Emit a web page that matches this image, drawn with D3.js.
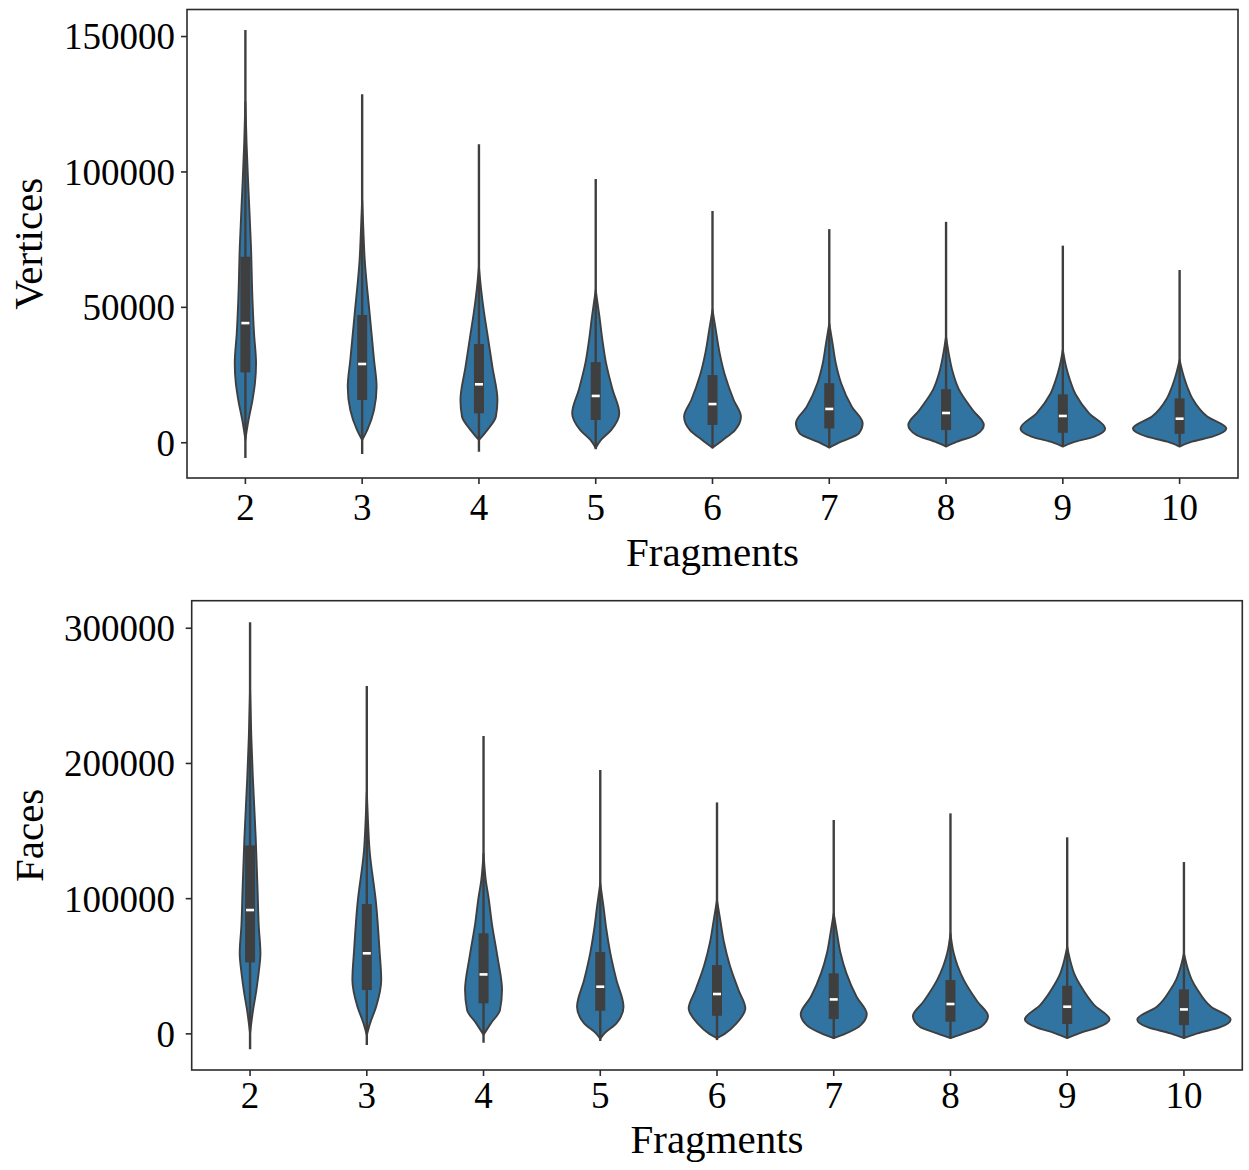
<!DOCTYPE html>
<html>
<head>
<meta charset="utf-8">
<script src="https://cdn.jsdelivr.net/npm/d3@7"></script>
<style>
  html, body { margin: 0; padding: 0; background: #fff; }
  svg { display: block; }
  text { font-family: "Liberation Serif", "Times New Roman", serif; fill: #000; }
</style>
</head>
<body>
<svg id="chart" width="1249" height="1170"></svg>
<script>
// ---------------- DATA ----------------
const categories = ["2", "3", "4", "5", "6", "7", "8", "9", "10"];
const xLabel = "Fragments";

// Vertices panel
const verticesTicks = [0, 50000, 100000, 150000];
const verticesWhiskerLow  = [-5800, -4300, -3500, -2600, -2200, -2000, -1600, -1600, -1600];
const verticesWhiskerHigh = [152200, 128500, 110000, 97200, 85400, 78700, 81400, 72600, 63600];
const verticesQ1     = [25800, 15600, 10700, 8200, 6400, 5100, 4500, 3500, 3100];
const verticesMedian = [44000, 28900, 21400, 17100, 14100, 12300, 10800, 9700, 8700];
const verticesQ3     = [68500, 47000, 36300, 29600, 24800, 21800, 19600, 17700, 16200];
// density profile per category: [value, relative density]
const verticesDensity = [
  [[850,0],[4000,0.026],[7000,0.054],[15600,0.152],[22000,0.206],[29200,0.228],[40200,0.185],[52500,0.152],[72200,0.12],[94400,0.063],[110000,0.026],[125700,0]],
  [[850,0],[4500,0.109],[11900,0.254],[20500,0.309],[30400,0.254],[47000,0.163],[67600,0.054],[80000,0.022],[89500,0]],
  [[850,0],[4500,0.178],[9500,0.363],[15600,0.396],[27900,0.287],[40300,0.178],[48000,0.109],[56200,0.048],[64800,0]],
  [[-2100,0],[850,0.113],[4500,0.33],[10700,0.504],[19300,0.363],[29600,0.217],[38000,0.141],[46400,0.08],[56200,0]],
  [[-2000,0],[850,0.222],[4500,0.483],[9500,0.609],[15600,0.454],[24800,0.265],[33000,0.152],[41500,0.07],[48900,0]],
  [[-2000,0],[200,0.254],[3300,0.635],[7000,0.715],[13100,0.483],[21800,0.254],[29000,0.141],[36500,0.07],[43900,0]],
  [[-1600,0],[200,0.237],[2700,0.635],[6400,0.809],[11900,0.57],[19600,0.272],[26000,0.141],[31600,0.07],[39000,0]],
  [[-1600,0],[200,0.265],[2100,0.672],[5100,0.907],[10700,0.563],[17700,0.272],[23000,0.152],[27900,0.07],[34100,0]],
  [[-1600,0],[200,0.265],[2100,0.7],[5100,1.0],[9500,0.591],[16200,0.272],[20500,0.163],[24200,0.091],[30400,0]]
];

// Faces panel
const facesTicks = [0, 100000, 200000, 300000];
const facesWhiskerLow  = [-11800, -8700, -6900, -5700, -5000, -4200, -3700, -3500, -3500];
const facesWhiskerHigh = [304000, 256900, 219900, 194700, 170800, 157800, 162700, 145000, 126700];
const facesQ1     = [52500, 32000, 22200, 16700, 13000, 10600, 8600, 6900, 6100];
const facesMedian = [91200, 59200, 43600, 34500, 29100, 25100, 21700, 19700, 17700];
const facesQ3     = [139000, 95600, 74000, 60100, 50500, 44400, 39400, 35200, 32500];
const facesDensity = [
  [[0,0],[14800,0.054],[32000,0.135],[45000,0.185],[59200,0.222],[80000,0.185],[106000,0.161],[145400,0.12],[189800,0.059],[220000,0.026],[255000,0]],
  [[-1200,0],[7400,0.07],[19700,0.2],[39400,0.309],[61600,0.272],[95600,0.2],[135600,0.059],[160000,0.022],[178700,0]],
  [[-1000,0],[7400,0.157],[17200,0.352],[32000,0.396],[56700,0.298],[81400,0.178],[100000,0.109],[113400,0.048],[133100,0]],
  [[-4000,0],[0,0.091],[7400,0.346],[19700,0.498],[39400,0.346],[60100,0.211],[77000,0.13],[93600,0.07],[110900,0]],
  [[-3500,0],[0,0.178],[7400,0.417],[18500,0.607],[32000,0.461],[50500,0.272],[67000,0.152],[83800,0.07],[98600,0]],
  [[-3500,0],[0,0.265],[6100,0.58],[14300,0.707],[27100,0.489],[44400,0.272],[60000,0.141],[74000,0.07],[88800,0]],
  [[-3500,0],[0,0.287],[4900,0.657],[12800,0.804],[23400,0.58],[39400,0.287],[50000,0.152],[59200,0.07],[74000,0]],
  [[-3500,0],[0,0.254],[4400,0.657],[10300,0.907],[20900,0.58],[35200,0.287],[44000,0.152],[51800,0.08],[64100,0]],
  [[-3500,0],[0,0.287],[4400,0.765],[10300,1.0],[19700,0.58],[32500,0.287],[40000,0.163],[46800,0.091],[59200,0]]
];

// ---------------- LAYOUT / STYLE ----------------
const VIOLIN_FILL = "#3274a1";
const DARK = "#3f3f3f";
const FRAME = "#2b2b2b";
const TICK_FONT = 37;
const LABEL_FONT = 41;

const panels = [
  {
    label: "Vertices", ticks: verticesTicks, domain: [-13200, 159800],
    left: 187, right: 1238, top: 9.5, bottom: 478,
    ylabelX: 42, tickLabelRight: 175, xTickPad: 11, xLabelBaseline: 566,
    wLow: verticesWhiskerLow, wHigh: verticesWhiskerHigh,
    q1: verticesQ1, med: verticesMedian, q3: verticesQ3, dens: verticesDensity
  },
  {
    label: "Faces", ticks: facesTicks, domain: [-27100, 320000],
    left: 191.7, right: 1242.3, top: 600.7, bottom: 1070,
    ylabelX: 43, tickLabelRight: 175, xTickPad: 7, xLabelBaseline: 1153,
    wLow: facesWhiskerLow, wHigh: facesWhiskerHigh,
    q1: facesQ1, med: facesMedian, q3: facesQ3, dens: facesDensity
  }
];

const svg = d3.select("#chart");
svg.append("rect").attr("width", 1249).attr("height", 1170).attr("fill", "#fff");

panels.forEach(p => {
  const g = svg.append("g");
  const x = d3.scaleBand().domain(categories).range([p.left, p.right]).padding(0);
  const y = d3.scaleLinear().domain(p.domain).range([p.bottom, p.top]);
  const w = d3.scaleLinear().domain([0, 1]).range([0, x.bandwidth() * 0.4]);

  // violins
  categories.forEach((c, i) => {
    const cx = x(c) + x.bandwidth() / 2;
    const area = d3.area()
      .curve(d3.curveMonotoneY)
      .y(d => y(d[0]))
      .x0(d => cx - w(d[1]))
      .x1(d => cx + w(d[1]));
    g.append("path")
      .datum(p.dens[i])
      .attr("d", area)
      .attr("fill", VIOLIN_FILL)
      .attr("stroke", DARK)
      .attr("stroke-width", 1.9)
      .attr("stroke-linejoin", "round");

    // whisker line
    g.append("line")
      .attr("x1", cx).attr("x2", cx)
      .attr("y1", y(p.wLow[i])).attr("y2", y(p.wHigh[i]))
      .attr("stroke", DARK).attr("stroke-width", 2.4);
    // box
    g.append("rect")
      .attr("x", cx - 5).attr("width", 10)
      .attr("y", y(p.q3[i])).attr("height", y(p.q1[i]) - y(p.q3[i]))
      .attr("fill", DARK);
    // median
    g.append("rect")
      .attr("x", cx - 4).attr("width", 8)
      .attr("y", y(p.med[i]) - 1.3).attr("height", 2.6)
      .attr("fill", "#ffffff");
  });

  // frame
  g.append("rect")
    .attr("x", p.left).attr("y", p.top)
    .attr("width", p.right - p.left).attr("height", p.bottom - p.top)
    .attr("fill", "none").attr("stroke", FRAME).attr("stroke-width", 1.6);

  // y axis
  const yAxis = d3.axisLeft(y).tickValues(p.ticks).tickSize(6)
    .tickPadding(p.left - 6 - p.tickLabelRight).tickFormat(d3.format("d"));
  const ya = g.append("g").attr("transform", `translate(${p.left},0)`).call(yAxis);
  ya.select(".domain").remove();
  ya.selectAll(".tick line").attr("stroke", FRAME).attr("stroke-width", 1.6);
  ya.selectAll(".tick text")
    .attr("font-family", "Liberation Serif, serif")
    .attr("font-size", TICK_FONT).attr("dy", "0.35em").attr("fill", "#000");

  // x axis
  const xAxis = d3.axisBottom(x).tickSize(6).tickPadding(p.xTickPad);
  const xa = g.append("g").attr("transform", `translate(0,${p.bottom})`).call(xAxis);
  xa.select(".domain").remove();
  xa.selectAll(".tick line").attr("stroke", FRAME).attr("stroke-width", 1.6);
  xa.selectAll(".tick text")
    .attr("font-family", "Liberation Serif, serif")
    .attr("font-size", TICK_FONT).attr("dy", "0.68em").attr("fill", "#000");

  // axis labels
  g.append("text")
    .attr("x", (p.left + p.right) / 2).attr("y", p.xLabelBaseline)
    .attr("text-anchor", "middle").attr("font-size", LABEL_FONT)
    .text(xLabel);
  g.append("text")
    .attr("transform", `translate(${p.ylabelX},${(p.top + p.bottom) / 2}) rotate(-90)`)
    .attr("text-anchor", "middle").attr("font-size", LABEL_FONT)
    .text(p.label);
});
</script>
</body>
</html>
